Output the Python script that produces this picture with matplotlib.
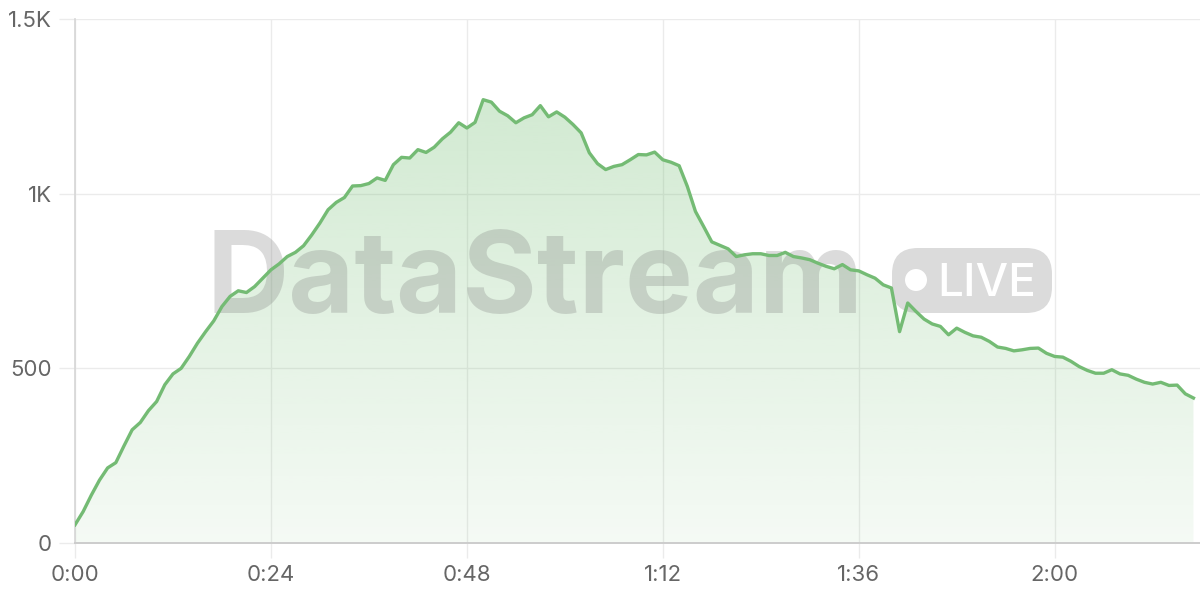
import numpy as np
import matplotlib
matplotlib.use("Agg")
import matplotlib.pyplot as plt
from matplotlib.patches import FancyBboxPatch, Circle, Polygon
from matplotlib.ticker import FuncFormatter

# viewers per minute of the stream
viewers = [52, 90, 137, 180, 215, 230, 278, 324, 345, 379,
           405, 453, 484, 500, 534, 572, 605, 636, 677, 706,
           722, 717, 734, 758, 782, 799, 820, 832, 851, 882,
           916, 954, 975, 989, 1022, 1023, 1029, 1045, 1038, 1083,
           1104, 1102, 1126, 1118, 1133, 1157, 1176, 1203, 1188, 1204,
           1269, 1262, 1236, 1223, 1203, 1217, 1226, 1252, 1220, 1234,
           1219, 1198, 1174, 1117, 1086, 1069, 1078, 1083, 1097, 1112,
           1111, 1119, 1097, 1090, 1080, 1021, 949, 906, 862, 852,
           842, 820, 825, 828, 828, 823, 823, 832, 820, 816,
           811, 801, 792, 785, 797, 782, 779, 768, 758, 739,
           730, 605, 687, 663, 641, 627, 620, 596, 615, 603,
           593, 589, 577, 561, 557, 550, 553, 557, 558, 543,
           534, 532, 520, 505, 494, 486, 486, 496, 484, 480,
           469, 460, 455, 460, 451, 452, 427, 415]
minutes = list(range(len(viewers)))

x_ticks = [0, 24, 48, 72, 96, 120]
y_ticks = [0, 500, 1000, 1500]

line_color = "#74bb74"
grid_color = "#ebebeb"
text_color = "#666666"

plt.rcParams['font.family'] = ['Inter', 'DejaVu Sans']

fig = plt.figure(figsize=(12, 6), dpi=100)
ax = fig.add_axes([75 / 1200, 57 / 600, 1125 / 1200, 524 / 600])

x = np.array(minutes, dtype=float)
y = np.array(viewers, dtype=float)

# gradient fill under the line
ymax = y.max()
n = 256
rgba = np.zeros((n, 1, 4))
rgba[..., 0] = 0x6d / 255
rgba[..., 1] = 0xbb / 255
rgba[..., 2] = 0x6d / 255
rgba[:, 0, 3] = np.linspace(0.07, 0.31, n)
img = ax.imshow(rgba, extent=[x[0], x[-1], 0, ymax], origin='lower',
                aspect='auto', zorder=1, interpolation='bilinear')
poly = Polygon(np.column_stack([np.r_[x[0], x, x[-1]], np.r_[0, y, 0]]),
               closed=True, facecolor='none', edgecolor='none')
ax.add_patch(poly)
img.set_clip_path(poly)

ax.plot(x, y, color=line_color, lw=2.4, zorder=4, solid_joinstyle='round')

ax.set_xlim(0, 137.8)
ax.set_ylim(0, 1500)

ax.set_xticks(x_ticks)
ax.set_yticks(y_ticks)
ax.xaxis.set_major_formatter(FuncFormatter(lambda v, p: f"{int(v) // 60}:{int(v) % 60:02d}"))
ax.yaxis.set_major_formatter(FuncFormatter(
    lambda v, p: "0" if v == 0 else (f"{v / 1000:g}K" if v >= 1000 else f"{int(v)}")))
ax.grid(True, color=grid_color, lw=1.0, zorder=0)
ax.set_axisbelow(True)
ax.tick_params(axis='x', length=11, width=1.0, color=grid_color, pad=5,
               labelsize=16, labelcolor=text_color)
ax.tick_params(axis='y', length=11.5, width=1.0, color=grid_color, pad=5,
               labelsize=16, labelcolor=text_color)
for side in ['top', 'right']:
    ax.spines[side].set_visible(False)
ax.spines['left'].set_color('#d6d6d6')
ax.spines['bottom'].set_color('#cccccc')
ax.spines['left'].set_linewidth(1.2)
ax.spines['bottom'].set_linewidth(1.4)

# watermark
wm_alpha = 0.27
ax.text(207 / 1200, (600 - 313) / 600, "DataStream", transform=fig.transFigure,
        fontsize=82, fontweight='bold', family=['Inter', 'DejaVu Sans'],
        color='#7a7a7a', alpha=wm_alpha, ha='left', va='baseline', zorder=2)
badge = FancyBboxPatch((892, 600 - 313), 160, 65, boxstyle="round,pad=0,rounding_size=26",
                       transform=None, facecolor='#7a7a7a', edgecolor='none',
                       alpha=wm_alpha, zorder=2)
ax.add_artist(badge)
ax.add_artist(Circle((916, 600 - 280), 11, transform=None, facecolor='white',
                     edgecolor='none', zorder=3))
ax.text(937 / 1200, (600 - 296) / 600, "LIVE", transform=fig.transFigure,
        fontsize=33, fontweight='medium', family=['Inter', 'DejaVu Sans'], color='white',
        ha='left', va='baseline', zorder=3)

fig.savefig("out.png", dpi=100)
